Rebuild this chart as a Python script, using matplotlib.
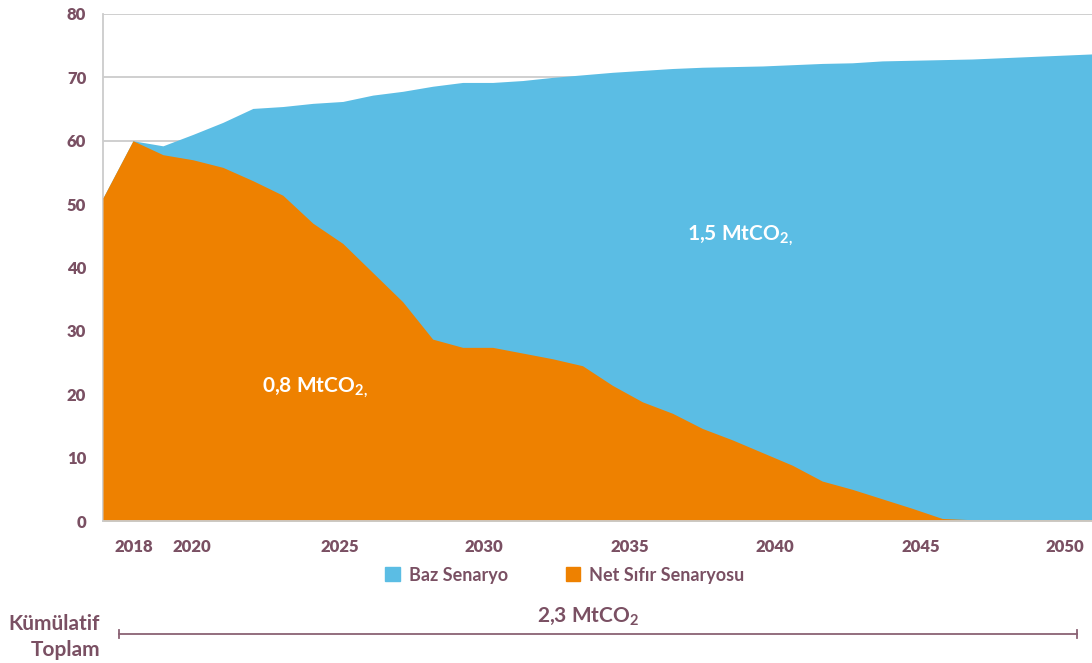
import numpy as np
import matplotlib.pyplot as plt
from matplotlib.patches import Patch

plt.rcParams['font.family'] = ['Lato', 'DejaVu Sans']
plt.rcParams['mathtext.fontset'] = 'custom'
plt.rcParams['mathtext.rm'] = 'Lato'

# data (MtCO2 per year)
years = np.arange(2017, 2051)
baz = [51.0, 60.0, 59.2, 61.0, 62.9, 65.1, 65.4, 65.9, 66.2, 67.2,
       67.8, 68.6, 69.2, 69.2, 69.5, 70.0, 70.4, 70.8, 71.1, 71.4,
       71.6, 71.7, 71.8, 72.0, 72.2, 72.3, 72.6, 72.7, 72.8, 72.9,
       73.1, 73.3, 73.5, 73.7]
net_sifir = [51.0, 60.0, 57.8, 57.0, 55.8, 53.7, 51.4, 47.0, 43.8, 39.2,
             34.6, 28.7, 27.4, 27.4, 26.5, 25.6, 24.5, 21.4, 18.8, 17.0,
             14.6, 12.8, 10.8, 8.8, 6.3, 5.0, 3.5, 2.0, 0.4, 0.2,
             0.2, 0.2, 0.2, 0.2]
tick_labels = ['2018', '2020', '2025', '2030', '2035', '2040', '2045', '2050']
# label positions as they sit in the original (slightly off the data grid)
tick_pos = [2018.03, 2019.97, 2024.9, 2029.7, 2034.57, 2039.43, 2044.3, 2049.1]

blue = '#5bbde4'
orange = '#ee8100'
txt = '#7a5063'
grid = '#cccccc'

fig = plt.figure(figsize=(10.92, 6.63), dpi=100)
ax = fig.add_axes([103/1092, 1 - 521/663, 1 - 103/1092, (521 - 14)/663])

ax.fill_between(years, 0, baz, color=blue, lw=0, zorder=2)
ax.fill_between(years, 0, net_sifir, color=orange, lw=0, zorder=3)

ax.set_xlim(2017, 2050)
ax.set_ylim(0, 80)
ax.set_yticks(range(0, 81, 10))
ax.set_xticks(tick_pos)
ax.set_xticklabels(tick_labels)
ax.yaxis.grid(True, color=grid, lw=1.3, zorder=0)
ax.set_axisbelow(True)
for s in ['top', 'right']:
    ax.spines[s].set_visible(False)
for s in ['left', 'bottom']:
    ax.spines[s].set_color(grid)
    ax.spines[s].set_linewidth(1.3)
ax.spines['bottom'].set_zorder(4)
ax.tick_params(length=0, labelsize=12, labelcolor=txt)
ax.tick_params(axis='x', pad=13)
ax.tick_params(axis='y', pad=12)
for lab in ax.get_xticklabels() + ax.get_yticklabels():
    lab.set_fontweight(800)

ax.text(2022.3, 20.3, r'0,8 MtCO$_{\mathregular{2,}}$', color='white',
        fontsize=15, fontweight='bold', zorder=5)
ax.text(2036.5, 44.3, r'1,5 MtCO$_{\mathregular{2,}}$', color='white',
        fontsize=15, fontweight='bold', zorder=5)

handles = [Patch(color=blue, label='Baz Senaryo'),
           Patch(color=orange, label='Net Sıfır Senaryosu')]
leg = fig.legend(handles=handles, loc='center', bbox_to_anchor=(565/1092, 1 - 575/663),
                 ncol=2, frameon=False, fontsize=13, handlelength=0.8, handleheight=0.8,
                 handletextpad=0.5, columnspacing=3.2)
for t in leg.get_texts():
    t.set_color(txt)
    t.set_fontweight('bold')

# cumulative bracket under the chart
y_br = 1 - 634/663
fig.add_artist(plt.Line2D([119/1092, 1077/1092], [y_br, y_br], color='#8a6274', lw=1.3))
for xb in [119/1092, 1077/1092]:
    fig.add_artist(plt.Line2D([xb, xb], [y_br - 0.006, y_br + 0.006], color='#8a6274', lw=1.3))
fig.text(588/1092, 1 - 617/663, r'2,3 MtCO$_{\mathregular{2}}$', color=txt, fontsize=15,
         fontweight='bold', ha='center', va='center')
fig.text(100/1092, 1 - 624/663, 'Kümülatif', color=txt, fontsize=15, fontweight='bold',
         ha='right', va='center')
fig.text(100/1092, 1 - 650/663, 'Toplam', color=txt, fontsize=15, fontweight='bold',
         ha='right', va='center')

fig.savefig('out.png', dpi=100)
